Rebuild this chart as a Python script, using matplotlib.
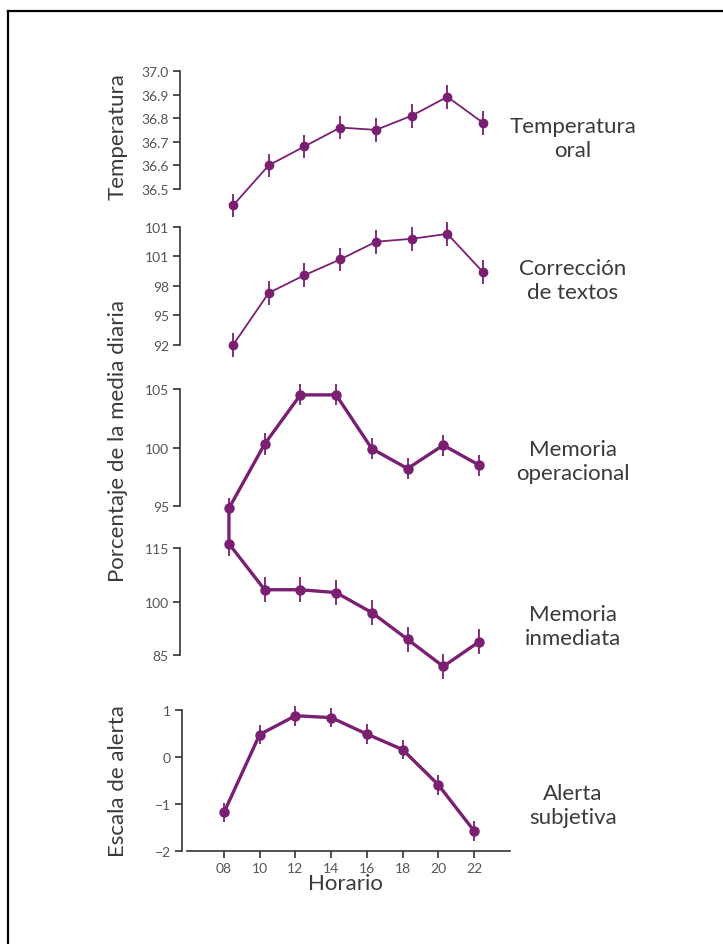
import matplotlib
matplotlib.use("Agg")
import matplotlib.pyplot as plt
from matplotlib.lines import Line2D
from matplotlib.patches import ConnectionPatch

plt.rcParams["font.family"] = ["Lato", "DejaVu Sans"]

# data
hours = [8, 10, 12, 14, 16, 18, 20, 22]
hour_labels = ["08", "10", "12", "14", "16", "18", "20", "22"]

temperatura = [36.43, 36.60, 36.68, 36.76, 36.75, 36.81, 36.89, 36.78]
temperatura_err = 0.05
temperatura_ticks = [36.5, 36.6, 36.7, 36.8, 36.9, 37.0]
temperatura_labels = ["36.5", "36.6", "36.7", "36.8", "36.9", "37.0"]

correccion = [92.0, 97.3, 99.1, 100.7, 102.5, 102.8, 103.3, 99.4]
correccion_err = 1.2
correccion_ticks = [92, 95, 98, 101, 104]
correccion_labels = ["92", "95", "98", "101", "101"]

mem_operacional = [94.8, 100.3, 104.5, 104.5, 99.9, 98.2, 100.2, 98.5]
mem_operacional_err = 0.9
mem_operacional_ticks = [95, 100, 105]

mem_inmediata = [116.2, 103.3, 103.3, 102.5, 96.9, 89.4, 81.8, 88.7]
mem_inmediata_err = 3.5
mem_inmediata_ticks = [85, 100, 115]

alerta = [-1.18, 0.48, 0.88, 0.84, 0.49, 0.16, -0.59, -1.57]
alerta_err = 0.21
alerta_ticks = [-2, -1, 0, 1]
alerta_labels = ["\u22122", "\u22121", "0", "1"]

W, H = 723, 945
purple = "#7a1f72"
axis_col = "#333333"
tick_col = "#555555"
text_col = "#3a3a3a"

fig = plt.figure(figsize=(W / 100, H / 100), dpi=100)


def make_ax(left, top, bottom, right=509):
    return fig.add_axes([left / W, 1 - bottom / H, (right - left) / W, (bottom - top) / H])


def style_ax(ax, ticks, labels, bounds):
    for side in ["top", "right", "bottom"]:
        ax.spines[side].set_visible(False)
    ax.spines["left"].set_color(axis_col)
    ax.spines["left"].set_linewidth(1.2)
    ax.spines["left"].set_bounds(*bounds)
    ax.set_yticks(ticks)
    ax.set_yticklabels(labels)
    ax.tick_params(axis="y", direction="out", length=5, width=1.2, color=axis_col,
                   labelsize=10, labelcolor=tick_col, pad=3)
    ax.set_xticks([])
    ax.patch.set_alpha(0)


def draw(ax, values, err, lw, ms):
    ax.errorbar(hours, values, yerr=err, color=purple, lw=lw, elinewidth=1.3,
                marker="o", ms=ms, capsize=0, clip_on=False)


# 1. Temperatura oral
ax1 = make_ax(180, 62, 222)
draw(ax1, temperatura, temperatura_err, 1.3, 6)
ax1.set_xlim(5.03, 5.03 + 329 / 17.86)
ax1.set_ylim(36.364, 37.042)
style_ax(ax1, temperatura_ticks, temperatura_labels, (36.5, 37.0))

# 2. Correccion de textos
ax2 = make_ax(180, 222, 362)
draw(ax2, correccion, correccion_err, 1.3, 6)
ax2.set_xlim(5.03, 5.03 + 329 / 17.86)
ax2.set_ylim(90.37, 104.61)
style_ax(ax2, correccion_ticks, correccion_labels, (92, 104))

# 3. Memoria operacional
ax3 = make_ax(180, 378, 525)
draw(ax3, mem_operacional, mem_operacional_err, 2.4, 6.5)
ax3.set_xlim(5.26, 5.26 + 329 / 17.86)
ax3.set_ylim(93.46, 106.03)
style_ax(ax3, mem_operacional_ticks, mem_operacional_ticks, (95, 105))

# 4. Memoria inmediata
ax4 = make_ax(180, 525, 690)
draw(ax4, mem_inmediata, mem_inmediata_err, 2.4, 6.5)
ax4.set_xlim(5.26, 5.26 + 329 / 17.86)
ax4.set_ylim(75.47, 121.73)
style_ax(ax4, mem_inmediata_ticks, mem_inmediata_ticks, (85, 115))

# link between the two memory panels at 08 h
link = ConnectionPatch(xyA=(hours[0], mem_operacional[0]), coordsA=ax3.transData,
                       xyB=(hours[0], mem_inmediata[0]), coordsB=ax4.transData,
                       color=purple, lw=2.4)
fig.add_artist(link)

# 5. Alerta subjetiva
ax5 = make_ax(182, 698, 852)
draw(ax5, alerta, alerta_err, 2.4, 6.5)
ax5.set_xlim(5.65, 5.65 + 327 / 17.86)
ax5.set_ylim(-2.0, 1.279)
style_ax(ax5, alerta_ticks, alerta_labels, (-2, 1))
ax5.spines["bottom"].set_visible(True)
ax5.spines["bottom"].set_color(axis_col)
ax5.spines["bottom"].set_linewidth(1.2)
ax5.spines["bottom"].set_bounds(5.93, 24)
ax5.set_xticks(hours)
ax5.set_xticklabels(hour_labels)
ax5.tick_params(axis="x", direction="out", length=5, width=1.2, color=axis_col,
                labelsize=10, labelcolor=tick_col, pad=3)


def ftext(x, y, s, **kw):
    fig.text(x / W, 1 - y / H, s, color=text_col, fontsize=16,
             ha="center", va="center", **kw)


# y labels
ftext(118, 137, "Temperatura", rotation=90)
ftext(118, 441, "Porcentaje de la media diaria", rotation=90)
ftext(118, 781, "Escala de alerta", rotation=90)
ftext(345, 884, "Horario")

# panel names on the right
ftext(573, 139, "Temperatura\noral", linespacing=1.25)
ftext(573, 281, "Corrección\nde textos", linespacing=1.25)
ftext(573, 462, "Memoria\noperacional", linespacing=1.25)
ftext(573, 627, "Memoria\ninmediata", linespacing=1.25)
ftext(573, 806, "Alerta\nsubjetiva", linespacing=1.25)

# frame (top and left edges only)
fig.add_artist(Line2D([8 / W, 1], [1 - 12 / H, 1 - 12 / H], transform=fig.transFigure,
                      color="black", lw=1.6))
fig.add_artist(Line2D([8 / W, 8 / W], [0, 1 - 12 / H], transform=fig.transFigure,
                      color="black", lw=1.6))

fig.savefig("out.png", dpi=100)
plt.close(fig)
